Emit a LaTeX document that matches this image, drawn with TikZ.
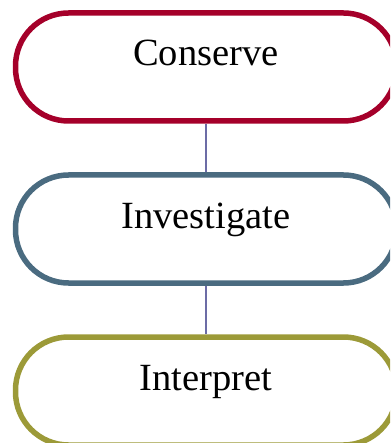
\documentclass[tikz,border=0pt]{standalone}
\usepackage{fontspec}
\setmainfont{Liberation Serif}
\definecolor{conservered}{HTML}{A5002A}
\definecolor{investblue}{HTML}{4A6B80}
\definecolor{interpolive}{HTML}{9C9A38}
\definecolor{linkviolet}{HTML}{6C6CA6}
\tikzset{stage/.style={draw,line width=5.5pt,rounded corners=53pt,fill=white,
    minimum width=381pt,minimum height=108pt,inner sep=0pt,
    font=\fontsize{38.5}{42}\selectfont,text height=26pt,text depth=28pt},
  link/.style={linkviolet,line width=1.2pt}}

\begin{document}
\begin{tikzpicture}[x=1pt,y=1pt]
        \useasboundingbox (0,0) rectangle (390,-443);
        \clip (0,0) rectangle (390,-443);
        \node[stage,draw=conservered] (conserve) at (206,-67) {Conserve};
        \node[stage,draw=investblue] (investigate) at (206,-229) {Investigate};
        \node[stage,draw=interpolive] (interpret) at (206,-391) {Interpret};
        \draw[link] (conserve) -- (investigate);
        \draw[link] (investigate) -- (interpret);
    \end{tikzpicture}
\end{document}
